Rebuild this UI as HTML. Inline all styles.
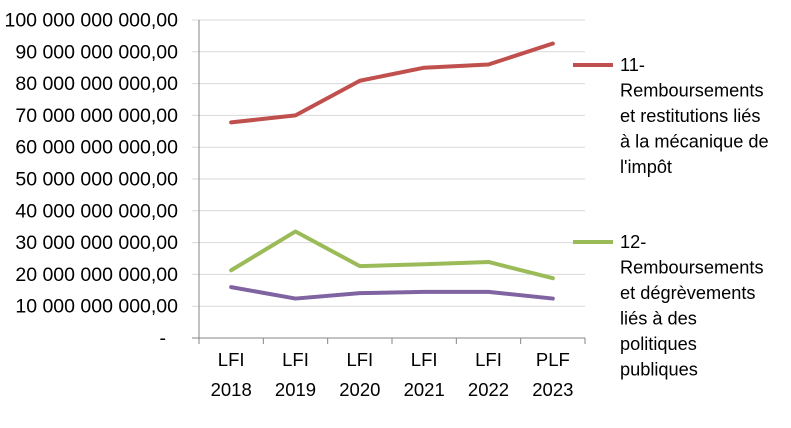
<!DOCTYPE html>
<html><head><meta charset="utf-8"><style>
body{margin:0;background:#fff}
svg text{font-family:"Liberation Sans",sans-serif;fill:#000}
</style></head><body>
<svg width="791" height="423">
<g id="grid"></g><g id="axes"></g><g id="series"></g>
<g font-size="18.2">
<line x1="573" y1="65" x2="613" y2="65" stroke="#c0504d" stroke-width="4"/>
<text x="620" y="71"><tspan x="620">11-</tspan><tspan x="620" dy="25.5">Remboursements</tspan><tspan x="620" dy="25.5">et restitutions liés</tspan><tspan x="620" dy="25.5">à la mécanique de</tspan><tspan x="620" dy="25.5">l'impôt</tspan></text>
<line x1="573" y1="242" x2="613" y2="242" stroke="#9bbb59" stroke-width="4"/>
<text x="620" y="248"><tspan x="620">12-</tspan><tspan x="620" dy="25.5">Remboursements</tspan><tspan x="620" dy="25.5">et dégrèvements</tspan><tspan x="620" dy="25.5">liés à des</tspan><tspan x="620" dy="25.5">politiques</tspan><tspan x="620" dy="25.5">publiques</tspan></text>
</g>
</svg>
<script>
const categories1=["LFI","LFI","LFI","LFI","LFI","PLF"];
const categories2=["2018","2019","2020","2021","2022","2023"];
const series11=[67.8,70.0,80.9,85.0,86.0,92.6];
const series12=[21.3,33.5,22.6,23.2,23.9,18.8];
const series13=[16.0,12.4,14.1,14.5,14.5,12.4];
const yTicks=["-","10 000 000 000,00","20 000 000 000,00","30 000 000 000,00","40 000 000 000,00","50 000 000 000,00","60 000 000 000,00","70 000 000 000,00","80 000 000 000,00","90 000 000 000,00","100 000 000 000,00"];
const NS="http://www.w3.org/2000/svg";
const x0=199,x1=585,y0=338,y1=20;
const bw=(x1-x0)/categories1.length;
const X=i=>x0+bw*(i+0.5);
const Y=v=>y0-(v/100)*(y0-y1);
function mk(t,a,p){const e=document.createElementNS(NS,t);for(const k in a)e.setAttribute(k,a[k]);p.appendChild(e);return e;}
const grid=document.getElementById('grid'),axes=document.getElementById('axes'),ser=document.getElementById('series');
yTicks.forEach((t,i)=>{const y=Y(i*10);
 if(i>0){const l=mk('line',{x1:192,x2:x1,y1:y,y2:y,stroke:'#d9d9d9','stroke-width':1},grid);
 
 }
 const tx=mk('text',{x:i==0?166:178,y:y+6.5,'text-anchor':'end','font-size':'19.5'},axes);tx.textContent=t;
 
 
});
let a=mk('line',{x1:x0,x2:x0,y1:y1,y2:y0,stroke:'#868686'},axes);


a=mk('line',{x1:192,x2:x1,y1:y0,y2:y0,stroke:'#868686'},axes);


for(let i=0;i<=categories1.length;i++){const x=x0+bw*i;mk('line',{x1:x,x2:x,y1:y0,y2:y0+6,stroke:'#868686'},axes);}
categories1.forEach((c,i)=>{const t=mk('text',{x:X(i),y:366,'text-anchor':'middle','font-size':'18.5'},axes);
 t.innerHTML='<tspan x="'+X(i)+'">'+c+'</tspan><tspan x="'+X(i)+'" dy="30">'+categories2[i]+'</tspan>';
 
 });
[[series11,'#c0504d','series-11-line'],[series12,'#9bbb59','series-12-line'],[series13,'#8064a2','series-13-line']].forEach(([d,c,n])=>{
 const p=mk('polyline',{points:d.map((v,i)=>X(i)+','+Y(v)).join(' '),fill:'none',stroke:c,'stroke-width':4,'stroke-linejoin':'round','stroke-linecap':'round'},ser);
 
 
});
</script>
</body></html>
